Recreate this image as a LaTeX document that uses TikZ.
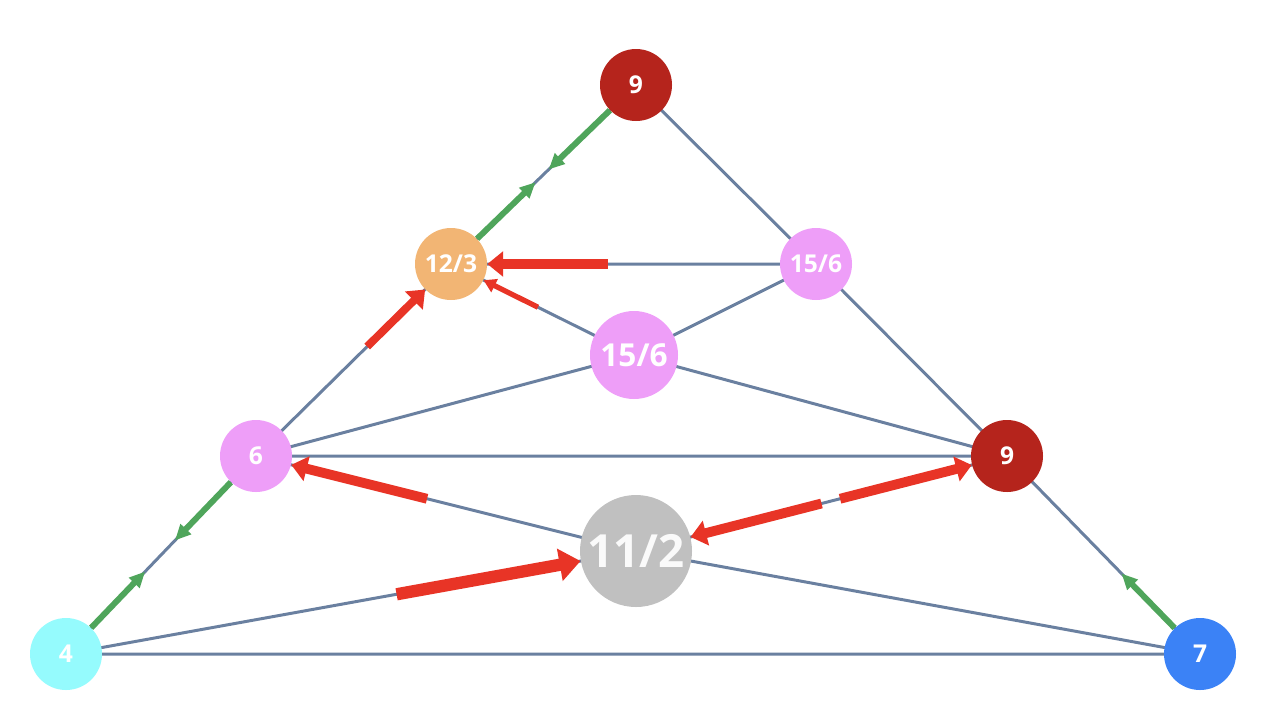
\documentclass[tikz,border=0pt]{standalone}
\usepackage{fontspec}
\setmainfont{Open Sans}
\usetikzlibrary{calc,arrows.meta,backgrounds}
\definecolor{dred}{HTML}{B5241C}
\definecolor{orng}{HTML}{F2B574}
\definecolor{pnk}{HTML}{EE9EF8}
\definecolor{gry}{HTML}{C0C0C0}
\definecolor{cyn}{HTML}{95FBFD}
\definecolor{blu}{HTML}{3B82F6}
\definecolor{edg}{HTML}{6A80A0}
\definecolor{grn}{HTML}{4FA55B}
\definecolor{rd}{HTML}{E83426}
\tikzset{
 v/.style={circle,inner sep=0pt,minimum size=72*0.02cm,text=white,font=\bfseries\fontsize{14}{16}\selectfont},
 e/.style={draw=edg,line width=1.7pt},
 g/.style={draw=grn,line width=3.4pt,-{Triangle[length=9pt,width=8pt]},shorten >=-1pt},
 r/.style={draw=rd,line width=5.6pt,-{Triangle[length=9pt,width=14pt]}},
 rt/.style={draw=rd,line width=3pt,-{Triangle[length=7pt,width=8pt]}},
}
\begin{document}
\begin{tikzpicture}[x=0.02cm,y=-0.02cm]
\useasboundingbox (0,0) rectangle (1266,714);
\node[v,fill=dred] (t) at (636,85) {9};
\node[v,fill=orng] (a) at (451,264) {12/3};
\node[v,fill=pnk] (b) at (816,264) {15/6};
\node[v,fill=pnk,minimum size=88*0.02cm,font=\bfseries\fontsize{18}{20}\selectfont] (c) at (634,355) {15/6};
\node[v,fill=pnk] (s) at (256,456) {6};
\node[v,fill=dred] (n) at (1007,456) {9};
\node[v,fill=gry,minimum size=112*0.02cm,font=\bfseries\fontsize{26}{28}\selectfont,text=white!96!gray] (h) at (636,551) {11/2};
\node[v,fill=cyn] (f) at (66,654) {4};
\node[v,fill=blu] (w) at (1200,654) {7};
\begin{scope}[on background layer]
\path[e] (t.center) -- (b.center) (b.center) -- (n.center) (n.center) -- (w.center) (f.center) -- (s.center) (s.center) -- (a.center) (a.center) -- (t.center)
 (f.center) -- (w.center) (a.center) -- (b.center) (a.center) -- (c.center) (c.center) -- (b.center) (s.center) -- (c.center) (c.center) -- (n.center) (s.center) -- (n.center)
 (s.center) -- (h.center) (h.center) -- (w.center) (f.center) -- (h.center) (h.center) -- (n.center);
\end{scope}
% green
\draw[g] (a) -- ($(a)!0.45!(t)$);
\draw[g] (t) -- ($(a)!0.535!(t)$);
\draw[g] (f) -- ($(f)!0.41!(s)$);
\draw[g] (s) -- ($(f)!0.58!(s)$);
\draw[g] (w) -- ($(w)!0.40!(n)$);
% red
\coordinate (r1) at ($(a)!0.43!(b)$);
\coordinate (r2) at ($(a)!0.475!(c)$);
\coordinate (r3) at ($(a)!0.43!(s)$);
\coordinate (r4) at ($(s)!0.45!(h)$);
\coordinate (r5) at ($(f)!0.58!(h)$);
\coordinate (r6) at ($(h)!0.50!(n)$);
\coordinate (r7) at ($(h)!0.55!(n)$);
\draw[r] (r1) -- (a);
\draw[rt] (r2) -- (a);
\draw[r,line width=4.5pt] (r3) -- (a);
\draw[r] (r4) -- (s);
\draw[r,line width=7pt,-{Triangle[length=12pt,width=18pt]}] (r5) -- (h);
\draw[r] (r6) -- (h);
\draw[r] (r7) -- (n);
\end{tikzpicture}
\end{document}
